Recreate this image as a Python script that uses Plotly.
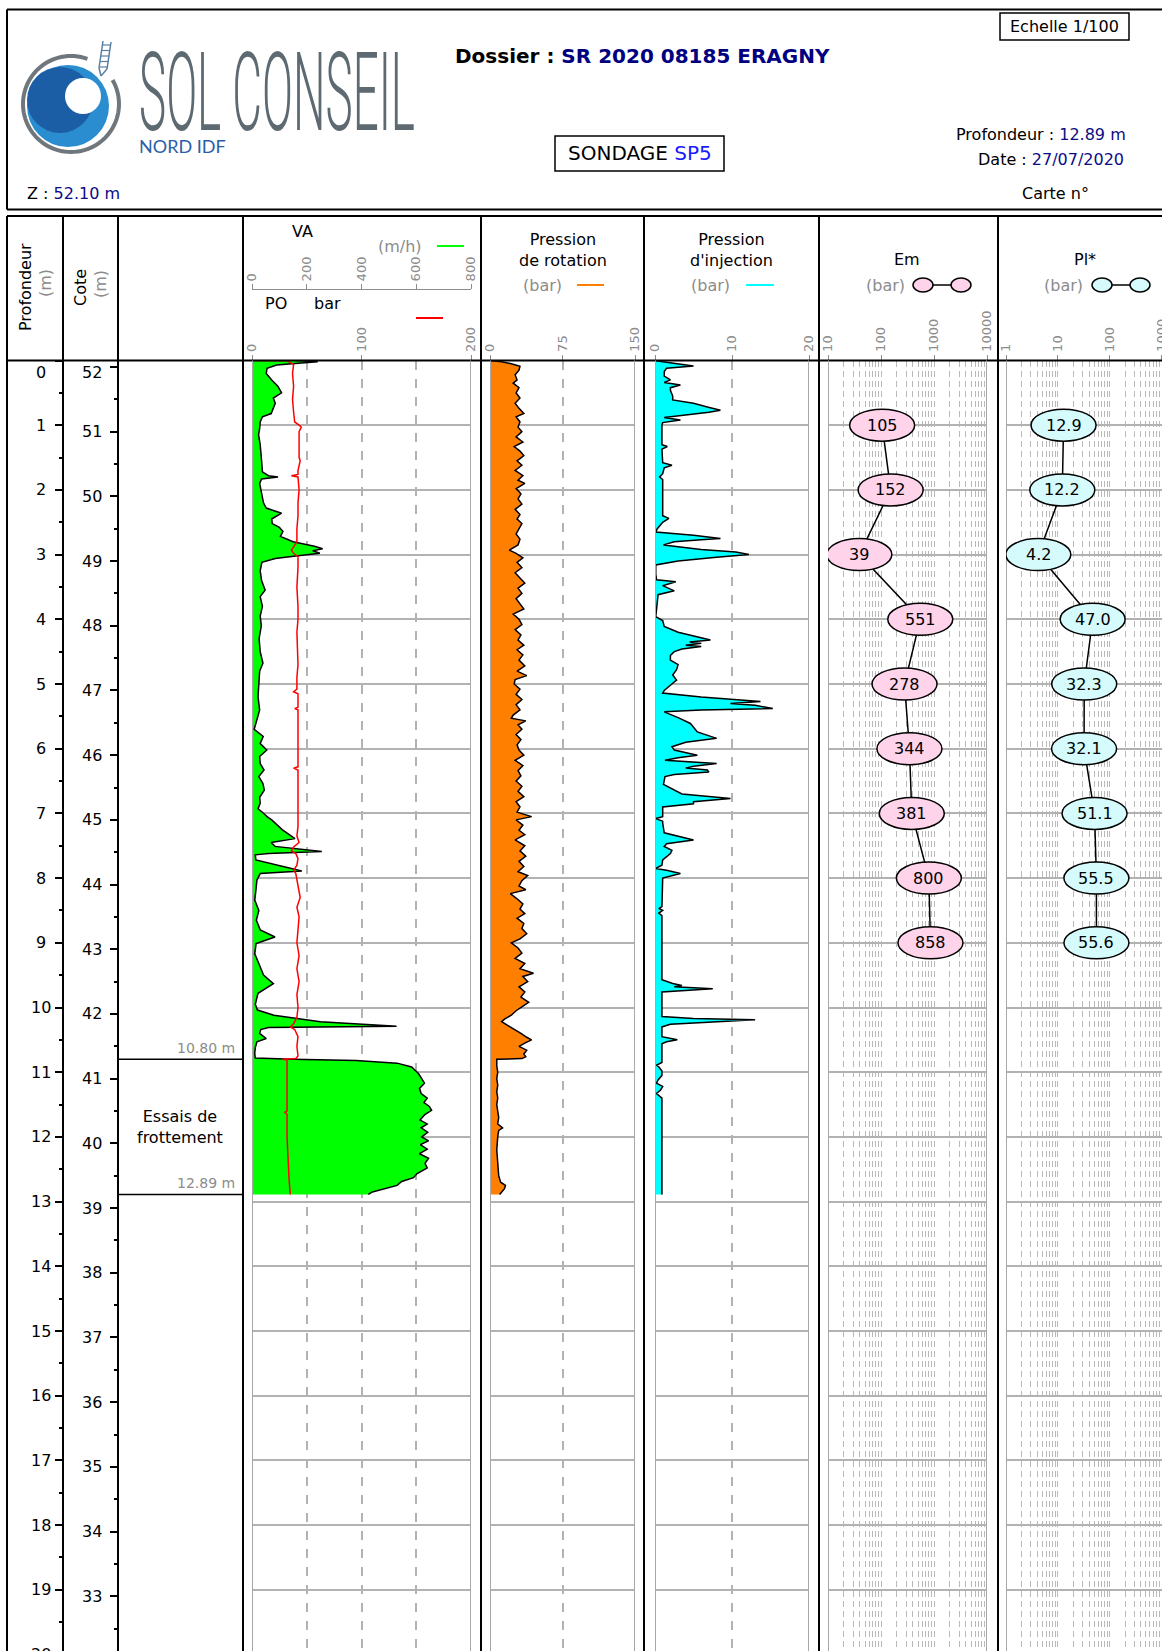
import math
import plotly.graph_objects as go

# ---------------------------------------------------------------- borehole data
# Vitesse d'avancement VA (m/h)
va_depth = [
    0.00, 0.02, 0.04, 0.07, 0.12, 0.20, 0.30, 0.40, 0.50, 0.58,
    0.66, 0.75, 0.82, 0.87, 0.95, 1.05, 1.15, 1.30, 1.45, 1.60,
    1.72, 1.78, 1.80, 1.83, 1.90, 2.00, 2.10, 2.20, 2.28, 2.36,
    2.45, 2.52, 2.58, 2.64, 2.72, 2.80, 2.87, 2.91, 2.94, 2.98,
    3.02, 3.06, 3.12, 3.25, 3.40, 3.55, 3.65, 3.80, 3.95, 4.10,
    4.30, 4.50, 4.68, 4.80, 5.00, 5.20, 5.40, 5.56, 5.70, 5.81,
    5.92, 6.02, 6.12, 6.23, 6.33, 6.43, 6.54, 6.64, 6.75, 6.84,
    6.93, 6.99, 7.05, 7.10, 7.25, 7.39, 7.45, 7.51, 7.56, 7.59,
    7.62, 7.64, 7.72, 7.82, 7.89, 7.93, 8.03, 8.20, 8.34, 8.50,
    8.65, 8.80, 8.91, 9.01, 9.17, 9.35, 9.50, 9.63, 9.78, 9.95,
    10.04, 10.12, 10.22, 10.29, 10.31, 10.34, 10.40, 10.48, 10.53, 10.62,
    10.71, 10.78, 10.80, 10.82, 10.86, 10.92, 11.02, 11.10, 11.17, 11.25,
    11.33, 11.40, 11.47, 11.53, 11.59, 11.66, 11.74, 11.80, 11.86, 11.93,
    12.00, 12.06, 12.12, 12.19, 12.26, 12.33, 12.41, 12.48, 12.57, 12.63,
    12.69, 12.75, 12.80, 12.85, 12.89,
]
va_value = [
    160, 240, 180, 90, 55, 52, 72, 95, 108, 78,
    85, 78, 70, 38, 30, 28, 24, 30, 34, 36,
    38, 60, 95, 35, 28, 32, 36, 42, 52, 108,
    72, 74, 100, 113, 104, 150, 228, 258, 222, 248,
    160, 85, 36, 30, 35, 48, 30, 38, 30, 34,
    26, 30, 40, 28, 25, 22, 28, 17, 8, 41,
    30, 54, 28, 30, 44, 25, 40, 45, 28, 30,
    22, 40, 55, 72, 110, 157, 70, 84, 180, 255,
    60, 12, 14, 114, 182, 30, 18, 14, 10, 25,
    16, 30, 84, 15, 10, 28, 42, 78, 22, 12,
    20, 80, 250, 528, 60, 32, 28, 52, 18, 12,
    10, 12, 150, 380, 530, 583, 608, 620, 630, 612,
    618, 640, 628, 648, 656, 630, 614, 640, 618, 642,
    620, 645, 615, 640, 612, 645, 632, 640, 602, 590,
    547, 530, 480, 440, 425,
]

# Pression sur l'outil PO (bar)
po_depth = [
    0.00, 0.005, 0.06, 0.20, 0.40, 0.60, 0.80, 0.95, 1.00, 1.03,
    1.10, 1.30, 1.50, 1.55, 1.62, 1.70, 1.76, 1.78, 1.80, 2.00,
    2.20, 2.40, 2.60, 2.80, 2.88, 2.93, 2.98, 3.03, 3.20, 3.50,
    3.80, 4.00, 4.20, 4.50, 4.70, 4.90, 5.08, 5.12, 5.15, 5.36,
    5.38, 5.40, 5.80, 6.10, 6.28, 6.30, 6.33, 6.80, 7.20, 7.35,
    7.45, 7.52, 7.58, 7.62, 7.70, 7.80, 7.88, 7.93, 8.10, 8.30,
    8.45, 8.60, 8.80, 9.00, 9.20, 9.40, 9.60, 9.80, 10.00, 10.15,
    10.25, 10.30, 10.34, 10.45, 10.60, 10.75, 10.79, 10.80, 10.81, 11.20,
    11.60, 11.62, 11.65, 12.00, 12.40, 12.70, 12.89,
]
po_value = [
    0, 32, 38, 37, 38, 37, 38, 39, 43, 45,
    43, 43, 43, 44, 43, 42, 42, 36, 42, 43,
    42, 42, 41, 41, 38, 36, 38, 42, 42, 41,
    42, 42, 41, 42, 42, 41, 41, 38, 42, 42,
    39, 42, 42, 42, 42, 38, 42, 42, 42, 41,
    43, 38, 36, 40, 42, 41, 38, 40, 42, 44,
    41, 43, 42, 41, 43, 41, 43, 41, 42, 41,
    38, 35, 39, 42, 41, 42, 40, 28, 32, 32,
    32, 30, 32, 32, 33, 34, 35,
]

# Pression de rotation (bar)
rot_depth = [
    0.00, 0.02, 0.05, 0.09, 0.15, 0.22, 0.30, 0.35, 0.42, 0.50,
    0.58, 0.66, 0.74, 0.82, 0.87, 0.95, 1.03, 1.10, 1.18, 1.26,
    1.33, 1.40, 1.47, 1.55, 1.62, 1.70, 1.78, 1.85, 1.90, 1.98,
    2.06, 2.14, 2.22, 2.30, 2.38, 2.45, 2.52, 2.60, 2.68, 2.76,
    2.85, 2.93, 2.98, 3.05, 3.12, 3.20, 3.28, 3.36, 3.44, 3.52,
    3.60, 3.68, 3.76, 3.84, 3.92, 4.00, 4.08, 4.16, 4.24, 4.32,
    4.40, 4.47, 4.55, 4.63, 4.72, 4.80, 4.87, 4.93, 5.00, 5.08,
    5.16, 5.24, 5.32, 5.40, 5.48, 5.53, 5.57, 5.63, 5.70, 5.78,
    5.86, 5.94, 6.02, 6.10, 6.18, 6.26, 6.34, 6.42, 6.50, 6.58,
    6.66, 6.74, 6.82, 6.90, 6.98, 7.05, 7.10, 7.18, 7.26, 7.33,
    7.41, 7.50, 7.58, 7.66, 7.74, 7.82, 7.90, 7.96, 8.04, 8.12,
    8.18, 8.24, 8.32, 8.40, 8.48, 8.55, 8.62, 8.70, 8.78, 8.86,
    8.94, 9.00, 9.08, 9.16, 9.24, 9.32, 9.40, 9.47, 9.52, 9.60,
    9.68, 9.76, 9.84, 9.92, 9.99, 10.05, 10.12, 10.18, 10.22, 10.28,
    10.34, 10.40, 10.46, 10.50, 10.55, 10.60, 10.66, 10.72, 10.76, 10.79,
    10.80, 10.90, 11.00, 11.10, 11.20, 11.30, 11.40, 11.50, 11.60, 11.70,
    11.80, 11.86, 11.90, 12.00, 12.20, 12.40, 12.60, 12.70, 12.75, 12.80,
    12.85, 12.89,
]
rot_value = [
    0, 12, 22, 31, 30, 26, 28, 24, 30, 27,
    31, 26, 30, 35, 27, 31, 29, 33, 27, 34,
    25, 31, 35, 28, 33, 26, 34, 29, 36, 27,
    32, 29, 33, 26, 31, 28, 33, 30, 27, 31,
    29, 20, 27, 34, 28, 33, 26, 31, 36, 29,
    33, 27, 31, 35, 24, 30, 33, 26, 32, 29,
    35, 28, 34, 30, 36, 28, 38, 26, 25, 31,
    27, 33, 27, 31, 24, 22, 37, 29, 33, 27,
    32, 28, 30, 35, 26, 34, 29, 32, 27, 33,
    29, 35, 27, 31, 28, 43, 27, 34, 30, 36,
    26, 36, 31, 37, 30, 35, 29, 39, 33, 30,
    37, 21, 28, 34, 31, 36, 28, 35, 33, 38,
    31, 22, 29, 33, 26, 36, 31, 45, 34, 39,
    30, 36, 32, 40, 33, 27, 22, 15, 12, 19,
    26, 32, 38, 43, 36, 30, 38, 35, 37, 33,
    7, 7, 8, 7, 8, 7, 8, 7, 8, 9,
    8, 13, 9, 8, 7, 8, 9, 11, 16, 15,
    12, 10,
]

# Pression d'injection (bar)
inj_depth = [
    0.00, 0.02, 0.085, 0.12, 0.17, 0.24, 0.30, 0.34, 0.38, 0.42,
    0.46, 0.55, 0.61, 0.66, 0.72, 0.77, 0.80, 0.84, 0.88, 0.92,
    0.96, 1.00, 1.30, 1.33, 1.37, 1.58, 1.62, 1.66, 1.75, 1.80,
    1.84, 2.30, 2.40, 2.44, 2.50, 2.60, 2.65, 2.70, 2.75, 2.77,
    2.80, 2.85, 2.92, 2.96, 3.00, 3.04, 3.10, 3.16, 3.30, 3.39,
    3.42, 3.48, 3.56, 3.62, 3.96, 4.02, 4.11, 4.20, 4.32, 4.35,
    4.37, 4.40, 4.42, 4.46, 4.50, 4.56, 4.63, 4.70, 4.78, 4.86,
    4.94, 5.02, 5.10, 5.14, 5.20, 5.27, 5.30, 5.33, 5.38, 5.40,
    5.43, 5.52, 5.61, 5.74, 5.84, 5.90, 5.97, 6.02, 6.06, 6.10,
    6.14, 6.18, 6.23, 6.27, 6.30, 6.33, 6.36, 6.40, 6.43, 6.55,
    6.70, 6.77, 6.82, 6.85, 6.90, 7.05, 7.08, 7.12, 7.15, 7.30,
    7.41, 7.47, 7.51, 7.57, 7.62, 7.72, 7.80, 7.85, 7.88, 7.93,
    8.00, 8.44, 8.47, 8.50, 8.54, 8.58, 9.57, 9.63, 9.66, 9.68,
    9.71, 9.74, 9.76, 10.14, 10.17, 10.19, 10.22, 10.26, 10.30, 10.45,
    10.50, 10.53, 10.56, 10.85, 10.89, 10.92, 10.98, 11.05, 11.12, 11.17,
    11.22, 11.28, 11.33, 11.40, 12.89,
]
inj_value = [
    0.0, 1.0, 5.0, 1.5, 1.2, 1.2, 2.0, 1.2, 3.3, 2.0,
    2.0, 2.3, 2.3, 5.0, 6.8, 8.5, 7.0, 4.0, 1.2, 3.3,
    1.0, 0.9, 0.9, 1.6, 0.9, 1.0, 2.2, 1.2, 1.0, 0.6,
    1.0, 1.0, 1.0, 1.8, 1.0, 0.3, 0.1, 5.0, 8.5, 6.0,
    2.5, 1.1, 6.0, 10.5, 12.2, 8.0, 3.0, 0.1, 0.1, 0.2,
    2.7, 1.0, 2.5, 0.4, 0.1, 1.0, 1.2, 3.0, 7.2, 4.5,
    6.0, 4.0, 6.0, 3.5, 2.5, 2.0, 2.0, 3.0, 2.8, 2.3,
    2.8, 2.0, 1.2, 1.0, 6.0, 13.7, 9.8, 13.0, 15.3, 6.0,
    1.2, 3.0, 4.6, 5.5, 8.0, 4.0, 2.2, 2.5, 4.0, 5.5,
    3.0, 1.3, 8.0, 5.0, 4.0, 6.8, 7.0, 2.5, 1.3, 1.1,
    3.5, 9.8, 5.0, 5.0, 1.0, 1.0, 0.1, 1.0, 1.0, 1.2,
    5.0, 1.5, 1.2, 2.2, 2.0, 1.0, 0.9, 0.1, 1.5, 3.3,
    1.0, 0.9, 0.5, 1.0, 0.5, 0.9, 0.9, 2.3, 3.5, 2.5,
    7.5, 3.0, 0.9, 0.9, 5.0, 13.0, 8.0, 2.0, 0.9, 0.9,
    2.9, 1.5, 0.9, 0.9, 0.2, 0.5, 0.9, 0.9, 0.4, 0.2,
    1.0, 0.7, 0.2, 0.9, 0.9,
]

# Essais pressiométriques
pmt_depth = [1, 2, 3, 4, 5, 6, 7, 8, 9]
em_value = [105, 152, 39, 551, 278, 344, 381, 800, 858]
pl_value = [12.9, 12.2, 4.2, 47.0, 32.3, 32.1, 51.1, 55.5, 55.6]

# Coupe
layer_bounds = [10.80, 12.89]
layer_label = "Essais de<br>frottement"
z_top = 52.10

# Axis ticks
depth_ticks = list(range(0, 21))
cote_ticks = list(range(52, 32, -1))
va_ticks = [0, 200, 400, 600, 800]
po_ticks = [0, 100, 200]
rot_ticks = [0, 75, 150]
inj_ticks = [0, 10, 20]
em_ticks = [10, 100, 1000, 10000]
pl_ticks = [1, 10, 100, 1000]

for a, b in [(va_depth, va_value), (po_depth, po_value),
             (rot_depth, rot_value), (inj_depth, inj_value)]:
    assert len(a) == len(b)

# ---------------------------------------------------------------- page geometry
W, H = 1162, 1651
Y0 = 360.5            # pixel row of depth 0
M_PX = 64.7           # pixels per metre (1/100)
DEPTH_BOTTOM = (H - Y0) / M_PX
COLS = [7, 63, 118, 243, 481, 644, 819, 998]

EM_PX = (828, 987)
EM_RANGE = [1, 4]
PL_PX = (1006, 1162)
PL_RANGE = [0, 3.01]

FONT = "DejaVu Sans"
GREY = "#8c8c8c"
NAVY = "#0c0c84"
GRID = "#b2b2b2"
GRID_MINOR = "#b9b9b9"
EDGE = "#a8a8a8"
ELL_W, ELL_H = 65, 32   # pressuremeter ellipse size in px


def px(x):
    return x / W


def py(y):
    return 1 - y / H


fig = go.Figure()
common = dict(mode="lines", hoverinfo="skip", showlegend=False, yaxis="y")
outline = dict(color="black", width=1.5)

fig.add_trace(go.Scatter(x=va_value, y=va_depth, xaxis="x2", fill="tozerox",
                         fillcolor="#00ff00", line=outline, **common))
fig.add_trace(go.Scatter(x=po_value, y=po_depth, xaxis="x3",
                         line=dict(color="#ff0000", width=1.5), **common))
fig.add_trace(go.Scatter(x=rot_value, y=rot_depth, xaxis="x4", fill="tozerox",
                         fillcolor="#ff8000", line=outline, **common))
fig.add_trace(go.Scatter(x=inj_value, y=inj_depth, xaxis="x5", fill="tozerox",
                         fillcolor="#00ffff", line=outline, **common))
fig.add_trace(go.Scatter(x=em_value, y=pmt_depth, xaxis="x6", line=outline, **common))
fig.add_trace(go.Scatter(x=pl_value, y=pmt_depth, xaxis="x7", line=outline, **common))
# keeps the elevation axis attached to a subplot
fig.add_trace(go.Scatter(x=[None], y=[None], xaxis="x4", yaxis="y2", mode="lines",
                         hoverinfo="skip", showlegend=False))


def track_axis(lo, hi, rng, ticks, **extra):
    ax = dict(domain=[px(lo), px(hi)], range=rng, anchor="y", side="top",
              tickmode="array", tickvals=ticks, ticktext=[str(t) for t in ticks],
              tickangle=-90, ticks="outside", ticklen=5, tickwidth=1, tickcolor=GREY,
              tickfont=dict(family=FONT, size=13, color=GREY),
              showgrid=True, gridcolor=GRID, gridwidth=1.5, griddash="dash",
              showline=False, zeroline=False, automargin=False, fixedrange=True)
    ax.update(extra)
    return ax


em_minor = [m * 10 ** e for e in range(1, 4) for m in range(2, 10)]
pl_minor = [m * 10 ** e for e in range(0, 3) for m in range(2, 10)]
log_minor = dict(tickmode="array", showgrid=True, gridcolor=GRID_MINOR,
                 griddash="6px,4px", gridwidth=1, ticks="")

layout_axes = dict(
    xaxis2=track_axis(252, 471, [0, 800], va_ticks, anchor="free", position=py(289),
                      showline=True, linecolor=GREY, linewidth=1),
    xaxis3=track_axis(252, 471, [0, 200], po_ticks, overlaying="x2", showgrid=False),
    xaxis4=track_axis(490, 635, [0, 150], rot_ticks),
    xaxis5=track_axis(655, 809, [0, 20], inj_ticks),
    xaxis6=track_axis(EM_PX[0], EM_PX[1], EM_RANGE, em_ticks, type="log",
                      griddash="6px,4px", gridwidth=1, gridcolor=GRID_MINOR,
                      minor=dict(tickvals=em_minor, **log_minor)),
    xaxis7=track_axis(PL_PX[0], PL_PX[1], PL_RANGE, pl_ticks, type="log",
                      griddash="6px,4px", gridwidth=1, gridcolor=GRID_MINOR,
                      ticklabeloverflow="allow",
                      minor=dict(tickvals=pl_minor, **log_minor)),
    yaxis=dict(domain=[0, py(Y0)], range=[DEPTH_BOTTOM, 0], anchor="free", position=px(COLS[1]),
               side="left", tickmode="linear", tick0=0, dtick=1, showticklabels=False,
               ticks="outside", ticklen=8, tickwidth=1.5, tickcolor="black",
               minor=dict(tickmode="linear", tick0=0, dtick=0.5, ticks="outside", ticklen=4,
                          tickwidth=1.5, tickcolor="black", showgrid=False),
               showgrid=True, gridcolor=GRID, gridwidth=1.5, zeroline=False, showline=False,
               automargin=False, fixedrange=True),
    yaxis2=dict(overlaying="y", range=[z_top - DEPTH_BOTTOM, z_top], anchor="free",
                position=px(COLS[2]), side="left", tickmode="linear", tick0=0, dtick=1,
                showticklabels=False, ticks="outside", ticklen=8, tickwidth=1.5,
                tickcolor="black",
                minor=dict(tickmode="linear", tick0=0, dtick=0.5, ticks="outside", ticklen=4,
                           tickwidth=1.5, tickcolor="black", showgrid=False),
                showgrid=False, zeroline=False, showline=False, automargin=False,
                fixedrange=True),
)

# ---------------------------------------------------------------- shapes
shapes = []


def seg(x0, y0, x1, y1, color="black", width=2, layer="above"):
    shapes.append(dict(type="line", xref="paper", yref="paper", x0=px(x0), y0=py(y0),
                       x1=px(x1), y1=py(y1), line=dict(color=color, width=width),
                       layer=layer))


def ellipse_px(cx, cy, rx, ry, fill, line_color="black", width=1.5):
    shapes.append(dict(type="circle", xref="paper", yref="paper",
                       x0=px(cx - rx), x1=px(cx + rx), y0=py(cy + ry), y1=py(cy - ry),
                       fillcolor=fill, line=dict(color=line_color, width=width),
                       layer="above"))


# header frame
seg(7, 9.5, W, 9.5)
seg(7, 209.5, W, 209.5)
seg(7, 9.5, 7, 209.5)
# log table frame
seg(7, 216, W, 216)
seg(7, Y0, W, Y0)
for c in COLS:
    seg(c, 216, c, H)

# solid edges of the tracks
for ax_name, edges in [("x2", [0, 800]), ("x4", [0, 150]), ("x5", [0, 20]),
                       ("x6", [em_ticks[0], em_ticks[-1]]), ("x7", [pl_ticks[0]])]:
    for v in edges:
        shapes.append(dict(type="line", xref=ax_name, yref="y domain", x0=v, x1=v,
                           y0=0, y1=1, line=dict(color=EDGE, width=2), layer="above"))

# layer boundaries in the description column
for b in layer_bounds:
    shapes.append(dict(type="line", xref="paper", yref="y", x0=px(COLS[2]), x1=px(COLS[3]),
                       y0=b, y1=b, line=dict(color="black", width=1.5), layer="above"))

# pressuremeter ellipses: symmetric in log space around each value
for ax_name, vals, fill, span_px, rng in [
        ("x6", em_value, "#ffd3e9", EM_PX, EM_RANGE),
        ("x7", pl_value, "#d6fbfc", PL_PX, PL_RANGE)]:
    px_per_decade = (span_px[1] - span_px[0]) / (rng[1] - rng[0])
    k = 10 ** (ELL_W / 2 / px_per_decade)
    for d, v in zip(pmt_depth, vals):
        shapes.append(dict(type="circle", xref=ax_name, yref="y", ysizemode="pixel",
                           yanchor=d, x0=v / k, x1=v * k, y0=-ELL_H / 2, y1=ELL_H / 2,
                           fillcolor=fill, line=dict(color="black", width=1.5),
                           layer="above"))

# legend samples in the track headers
seg(437, 246, 464, 246, color="#00ff00", width=2)
seg(416, 318, 443, 318, color="#ff0000", width=2)
seg(577, 285, 604, 285, color="#ff8000", width=2)
seg(746, 285, 774, 285, color="#00ffff", width=2)
seg(932, 285, 952, 285, width=1.5)
ellipse_px(923, 285, 10, 7, "#ffd3e9")
ellipse_px(961, 285, 10, 7, "#ffd3e9")
seg(1111, 285, 1131, 285, width=1.5)
ellipse_px(1102, 285, 10, 7, "#d6fbfc")
ellipse_px(1140, 285, 10, 7, "#d6fbfc")

# boxed titles
for x0, y0, x1, y1 in [(555, 136, 724, 171), (1000, 13, 1129, 40)]:
    shapes.append(dict(type="rect", xref="paper", yref="paper", x0=px(x0), x1=px(x1),
                       y0=py(y1), y1=py(y0), line=dict(color="black", width=1.5),
                       fillcolor="rgba(0,0,0,0)", layer="above"))

# logo: blue swirl inside an open grey ring, with a small auger above it
ellipse_px(68, 106, 41, 41, "#2a8dd0", line_color="#2a8dd0", width=0)
ellipse_px(60, 100, 33, 33, "#1c5ea6", line_color="#1c5ea6", width=0)
ellipse_px(83, 96, 18, 18, "white", line_color="white", width=0)
ring_pts = []
for i in range(81):
    a = math.radians(70 + 320 * i / 80)
    ring_pts.append((px(71 + 48 * math.cos(a)), py(104 - 48 * math.sin(a))))
shapes.append(dict(type="path", xref="paper", yref="paper",
                   path="M " + " L ".join(f"{x:.5f},{y:.5f}" for x, y in ring_pts),
                   line=dict(color="#6f777d", width=4), layer="above"))
seg(103, 41, 99, 68, color="#5a7fa5", width=1.5)
seg(111, 42, 107, 69, color="#5a7fa5", width=1.5)
for k_ in range(5):
    seg(102.5 - 0.7 * k_, 45 + 5.5 * k_, 110.5 - 0.7 * k_, 45 + 5.5 * k_,
        color="#5a7fa5", width=1.2)
seg(99, 68, 101, 76, color="#5a7fa5", width=1.5)
seg(107, 69, 101, 76, color="#5a7fa5", width=1.5)

# ---------------------------------------------------------------- text
ann = []


def label(x, y, text, size=16, color="black", xanchor="center", yanchor="middle",
          angle=0, **kw):
    font = dict(family=kw.pop("family", FONT), size=size, color=color)
    if "weight" in kw:
        font["weight"] = kw.pop("weight")
    ann.append(dict(x=px(x), y=py(y), xref="paper", yref="paper", text=text,
                    showarrow=False, font=font, xanchor=xanchor, yanchor=yanchor,
                    textangle=angle, **kw))


def navy(t, c=NAVY):
    return f"<span style='color:{c}'>{t}</span>"


# header block
label(137, 92, "SOL CONSEIL", size=110, color="#5e6a72", xanchor="left",
      family="Roboto", weight=300)
label(137, 146, "NORD IDF", size=18, color="#2b5ea8", xanchor="left", family="Lato")
label(25, 193, "Z : " + navy(f"{z_top:.2f} m"), xanchor="left")
label(453, 56, "<b>Dossier : " + navy("SR 2020 08185 ERAGNY", "#000080") + "</b>",
      size=20, xanchor="left")
label(639.5, 153.5, "SONDAGE " + navy("SP5", "#1a1aff"), size=20)
label(1064.5, 26.5, "Echelle 1/100")
label(1128, 134, "Profondeur : " + navy(f"{layer_bounds[-1]:.2f} m"), xanchor="right")
label(1126, 160, "Date : " + navy("27/07/2020"), xanchor="right")
label(1055, 193, "Carte n°")

# column headers
label(25, 287, "Profondeur", angle=-90)
label(45, 283, "(m)", color=GREY, angle=-90)
label(80, 287, "Cote", angle=-90)
label(100, 284, "(m)", color=GREY, angle=-90)
label(302, 231, "VA")
label(400, 246, "(m/h)", color=GREY)
label(276, 303, "PO")
label(327, 303, "bar")
label(563, 250, "Pression<br>de rotation")
label(542, 285, "(bar)", color=GREY)
label(731, 250, "Pression<br>d'injection")
label(710, 285, "(bar)", color=GREY)
label(907, 259, "Em")
label(886, 285, "(bar)", color=GREY)
label(1085, 259, "Pl*")
label(1063, 285, "(bar)", color=GREY)

# depth and elevation labels
tick_font = dict(family=FONT, size=16, color="black")
for d in depth_ticks:
    if d == depth_ticks[-1]:
        label(41, Y0 + d * M_PX, str(d))
    else:
        ann.append(dict(x=px(41), y=d, xref="paper", yref="y", text=str(d), showarrow=False,
                        font=tick_font, xanchor="center", yanchor="middle",
                        yshift=-12 if d == 0 else 0))
for c in cote_ticks:
    ann.append(dict(x=px(104), y=c, xref="paper", yref="y2", text=str(c), showarrow=False,
                    font=tick_font, xanchor="right", yanchor="middle",
                    yshift=-6 if c == cote_ticks[0] else 0))

# description column
for b in layer_bounds:
    ann.append(dict(x=px(237), y=b, xref="paper", yref="y", text=f"{b:.2f} m",
                    showarrow=False, font=dict(family=FONT, size=14, color=GREY),
                    xanchor="right", yanchor="bottom", yshift=1))
ann.append(dict(x=px(180), y=(layer_bounds[0] + layer_bounds[1]) / 2, xref="paper", yref="y",
                text=layer_label, showarrow=False, font=tick_font, xanchor="center",
                yanchor="middle"))

# pressuremeter values
for ax_name, vals, fmt in [("x6", em_value, "{:.0f}"), ("x7", pl_value, "{:.1f}")]:
    for d, v in zip(pmt_depth, vals):
        ann.append(dict(x=math.log10(v), y=d, xref=ax_name, yref="y", text=fmt.format(v),
                        showarrow=False, font=tick_font, xanchor="center", yanchor="middle"))

fig.update_layout(
    width=W, height=H, margin=dict(l=0, r=0, t=0, b=0, pad=0),
    paper_bgcolor="white", plot_bgcolor="white", showlegend=False,
    font=dict(family=FONT, size=16, color="black"),
    shapes=shapes, annotations=ann, **layout_axes,
)

squeeze_js = """
var gd = document.getElementById('{plot_id}');
document.body.style.margin = '0';
function squeezeLogo() {
  var texts = gd.querySelectorAll('text.annotation-text');
  for (var i = 0; i < texts.length; i++) {
    var t = texts[i];
    if (t.textContent === 'SOL CONSEIL') {
      t.removeAttribute('transform');
      var bb = t.getBBox();
      var s = 276 / bb.width;
      t.setAttribute('transform', 'translate(' + bb.x + ',0) scale(' + s + ',1) translate(' + (-bb.x) + ',0)');
    }
  }
}
squeezeLogo();
gd.on('plotly_afterplot', squeezeLogo);
"""

fig.write_html("out.html", config={"displayModeBar": False}, post_script=squeeze_js)
